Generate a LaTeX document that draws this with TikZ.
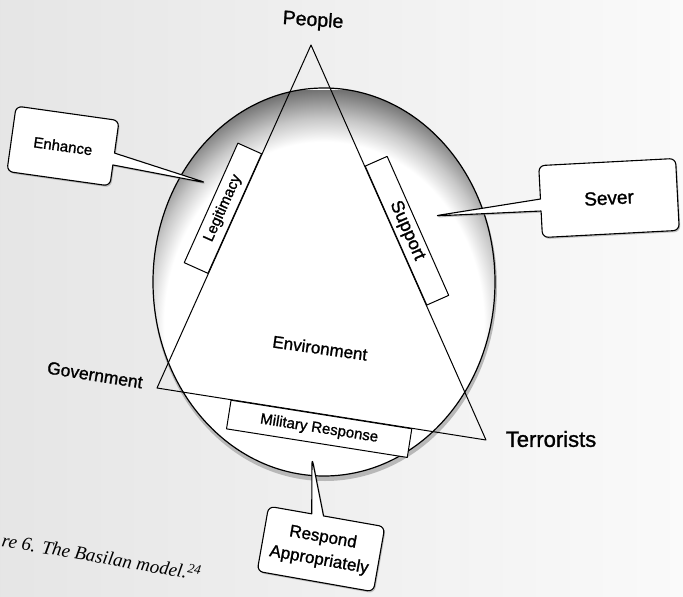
\documentclass[tikz,border=0pt]{standalone}
\usepackage{fontspec}
\setmainfont{Liberation Sans}[FakeBold=1.2]
\newfontfamily\capfont{Liberation Serif}
\usetikzlibrary{calc,shapes.callouts,shadows}
\pgfdeclareradialshading{rimshade}{\pgfpointorigin}{color(0bp)=(white); color(19.5bp)=(white); color(22bp)=(black!22); color(25bp)=(black!55); color(50bp)=(black!60)}
\newcommand{\basilanrim}{(324,282) ellipse (171 and 194)}
\tikzset{
  labeltext/.style={inner sep=0pt, font=\fontsize{#1}{#1}\selectfont},
  sidebox/.style={draw, fill=white, line width=1pt, inner sep=0pt, sloped},
  balloon/.style={rectangle callout, draw, fill=white, line width=1.1pt,
    rounded corners=6pt, callout pointer width=12pt, align=center, inner sep=0pt,
    drop shadow={shadow xshift=1.2pt, shadow yshift=-1.6pt, opacity=.45}}
}

\begin{document}
\begin{tikzpicture}[x=1pt, y=-1pt, line join=round]
    \useasboundingbox (0,0) rectangle (683,597);
    \shade[left color=black!10, right color=black!2] (0,0) rectangle (683,597);
    \fill[black!28] (325,286) ellipse (172 and 195);
    \fill[white] \basilanrim;
    \begin{scope}
        \clip \basilanrim;
        \shade[shading=rimshade] (119,90) rectangle (529,560);
    \end{scope}
    \draw[line width=1.2pt] \basilanrim;

    \coordinate (people) at (311,45);
    \coordinate (gov) at (157,388);
    \coordinate (terr) at (486,440);
    \draw[line width=1pt] (people) -- (gov) -- (terr) -- cycle;

    \path (gov) -- (people) node[sidebox, labeltext=15, pos=.508, anchor=south,
        minimum width=131, minimum height=26] (legit) {Legitimacy};
    \path (people) -- (terr) node[sidebox, labeltext=18, pos=.483, anchor=south,
        minimum width=152, minimum height=24] (support) {Support};
    \path (gov) -- (terr) node[sidebox, labeltext=15, pos=.5, anchor=north,
        minimum width=183, minimum height=29] (military) {Military Response};

    \node[labeltext=19.5, rotate=-4] (peoplelabel) at (313,21) {People};
    \node[labeltext=17.5, rotate=-9] (govlabel) at (95,375) {Government};
    \node[labeltext=22] (terrlabel) at (551,439) {Terrorists};
    \node[labeltext=17, rotate=-8] (envlabel) at (320,348) {Environment};

    \coordinate (enhancetip) at (207,183);
    \coordinate (severtip) at (434,216);
    \coordinate (respondtip) at (312,458);
    \node[balloon, labeltext=15, rotate=-8, minimum width=104, minimum height=66,
        callout absolute pointer={(enhancetip)}] (enhance) at (63,146) {Enhance};
    \node[balloon, labeltext=19, rotate=3, minimum width=137, minimum height=72,
        callout absolute pointer={(severtip)}] (sever) at (609,198) {Sever};
    \node[balloon, font=\fontsize{17}{23}\selectfont, rotate=-10, minimum width=118,
        minimum height=66, callout absolute pointer={(respondtip)}] (respond) at (321,549)
        {Respond\\Appropriately};

    \node[font=\capfont\itshape\fontsize{19}{19}\selectfont, rotate=-10, anchor=base west,
        inner sep=0pt] (caption) at (1,546) {re 6. The Basilan model.\textsuperscript{24}};
\end{tikzpicture}
\end{document}
